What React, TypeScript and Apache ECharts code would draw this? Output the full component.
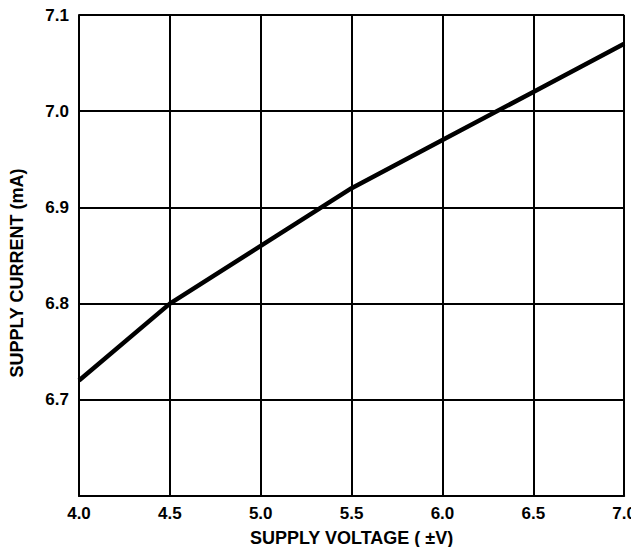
import React, { useEffect, useRef } from "react";
import * as echarts from "echarts";

const voltage = [4.0, 4.5, 5.0, 5.5, 6.0, 6.5, 7.0];
const current = [6.72, 6.8, 6.86, 6.92, 6.97, 7.02, 7.07];
const xTitle = "SUPPLY VOLTAGE ( \u00B1V)";
const yTitle = "SUPPLY CURRENT (mA)";

export default function App() {
  const ref = useRef<HTMLDivElement>(null);
  useEffect(() => {
    if (!ref.current) return;
    const chart = echarts.init(ref.current, null, { renderer: "svg" });
    const font = "'Liberation Sans', Arial, Helvetica, sans-serif";
    chart.setOption({
      animation: false,
      backgroundColor: "#fff",
      grid: { left: 79, right: 11, top: 15, bottom: 59, containLabel: false },
      xAxis: {
        type: "value",
        min: 4,
        max: 7,
        interval: 0.5,
        name: xTitle,
        nameLocation: "middle",
        nameGap: 33,
        nameTextStyle: { fontFamily: font, fontWeight: "bold", fontSize: 18, color: "#000" },
        axisLine: { show: true, lineStyle: { color: "#000", width: 2 } },
        axisTick: { show: false },
        axisLabel: {
          fontFamily: font,
          fontWeight: "bold",
          fontSize: 17,
          color: "#000",
          margin: 9,
          formatter: (v: number) => v.toFixed(1),
        },
        splitLine: { show: true, lineStyle: { color: "#000", width: 2 } },
      },
      yAxis: {
        type: "value",
        min: 6.6,
        max: 7.1,
        interval: 0.1,
        axisLine: { show: true, lineStyle: { color: "#000", width: 2 } },
        axisTick: { show: false },
        axisLabel: {
          fontFamily: font,
          fontWeight: "bold",
          fontSize: 17,
          color: "#000",
          margin: 10,
          formatter: (v: number) => (Math.abs(v - 6.6) < 1e-6 ? "" : v.toFixed(1)),
        },
        splitLine: { show: true, lineStyle: { color: "#000", width: 2 } },
      },
      graphic: [
        {
          type: "text",
          x: 17,
          y: 273,
          rotation: Math.PI / 2,
          style: {
            text: yTitle,
            fontFamily: font,
            fontWeight: "bold",
            fontSize: 18,
            fill: "#000",
            align: "center",
            verticalAlign: "middle",
          },
        },
      ],
      series: [
        {
          type: "line",
          data: voltage.map((v, i) => [v, current[i]]),
          showSymbol: false,
          symbol: "none",
          lineStyle: { color: "#000", width: 4.5 },
          clip: false,
        },
      ],
    });
    return () => chart.dispose();
  }, []);
  return <div ref={ref} style={{ width: 639, height: 555, margin: -8 }} />;
}
